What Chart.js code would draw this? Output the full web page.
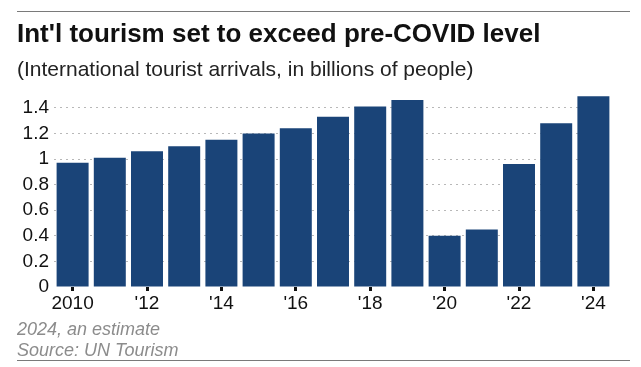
<!DOCTYPE html>
<html>
<head>
<meta charset="utf-8">
<script src="https://cdn.jsdelivr.net/npm/chart.js@4"></script>
<style>
    body { margin: 0; background: #fff; }
    #wrap { position: relative; width: 641px; height: 367px; overflow: hidden; font-family: "Liberation Sans", Arial, sans-serif; }
    .rule { position: absolute; left: 17px; width: 613px; height: 1px; background: #7a7a7a; }
    #title { position: absolute; left: 17px; top: 20px; font-size: 26px; line-height: 26px; font-weight: bold; color: #111; white-space: nowrap; }
    #subtitle { position: absolute; left: 17px; top: 58px; font-size: 21px; line-height: 21px; color: #222; white-space: nowrap; }
    .note { position: absolute; left: 17px; font-size: 18px; line-height: 18px; font-style: italic; color: #8c8c8c; white-space: nowrap; }
    #chart { position: absolute; left: 0; top: 0; }
</style>
</head>
<body>
<div id="wrap">
    <canvas id="chart" width="641" height="367"></canvas>
    <div class="rule" style="top:11px"></div>
    <div id="title">Int'l tourism set to exceed pre-COVID level</div>
    <div id="subtitle">(International tourist arrivals, in billions of people)</div>
    <div class="note" style="top:320px">2024, an estimate</div>
    <div class="note" style="top:341px">Source: UN Tourism</div>
    <div class="rule" style="top:360px"></div>
</div>
<script>
// years and arrivals (billions)
const years = ['2010', '2011', '2012', '2013', '2014', '2015', '2016', '2017',
               '2018', '2019', '2020', '2021', '2022', '2023', '2024'];
const arrivals = [0.97, 1.01, 1.06, 1.10, 1.15, 1.20, 1.24, 1.33,
                  1.41, 1.46, 0.40, 0.45, 0.96, 1.28, 1.49];
const yTicks = [0, 0.2, 0.4, 0.6, 0.8, 1, 1.2, 1.4];

// label every other year, first one in full
function yearLabel(y, i) {
    if (i % 2 !== 0) return '';
    return i === 0 ? y : "'" + y.slice(2);
}

const ctx = document.getElementById('chart').getContext('2d');
new Chart(ctx, {
    type: 'bar',
    data: {
        labels: years,
        datasets: [{
            data: arrivals,
            backgroundColor: '#1a4478',
            barPercentage: 0.86,
            categoryPercentage: 1.0
        }]
    },
    options: {
        responsive: false,
        animation: false,
        layout: { padding: { top: 95, right: 29, left: 0, bottom: 0 } },
        plugins: {
            legend: { display: false },
            tooltip: { enabled: false }
        },
        scales: {
            x: {
                grid: {
                    display: true,
                    offset: false,
                    drawOnChartArea: false,
                    drawTicks: true,
                    tickLength: 4,
                    tickWidth: 3,
                    tickColor: function(c) { return c.index % 2 === 0 ? '#111' : 'rgba(0,0,0,0)'; }
                },
                border: { display: false },
                ticks: {
                    autoSkip: false,
                    maxRotation: 0,
                    padding: 1,
                    color: '#111',
                    font: { family: 'Liberation Sans', size: 19 },
                    callback: function(v, i) { return yearLabel(years[i], i); }
                },
                afterFit: function(s) { s.height = 80; }
            },
            y: {
                min: 0,
                max: 1.5,
                z: 1,
                grid: {
                    color: function(c) { return c.tick.value === 0 ? 'rgba(0,0,0,0)' : 'rgba(0,0,0,0.28)'; },
                    lineWidth: 1,
                    drawTicks: false
                },
                border: { display: false, dash: [2, 4] },
                afterBuildTicks: function(s) {
                    s.ticks = yTicks.map(function(v) { return { value: v }; });
                },
                ticks: {
                    padding: 5,
                    color: '#111',
                    font: { family: 'Liberation Sans', size: 19 },
                    callback: function(v) { return String(v); }
                },
                afterFit: function(s) { s.width = 54; }
            }
        }
    }
});
</script>
</body>
</html>
